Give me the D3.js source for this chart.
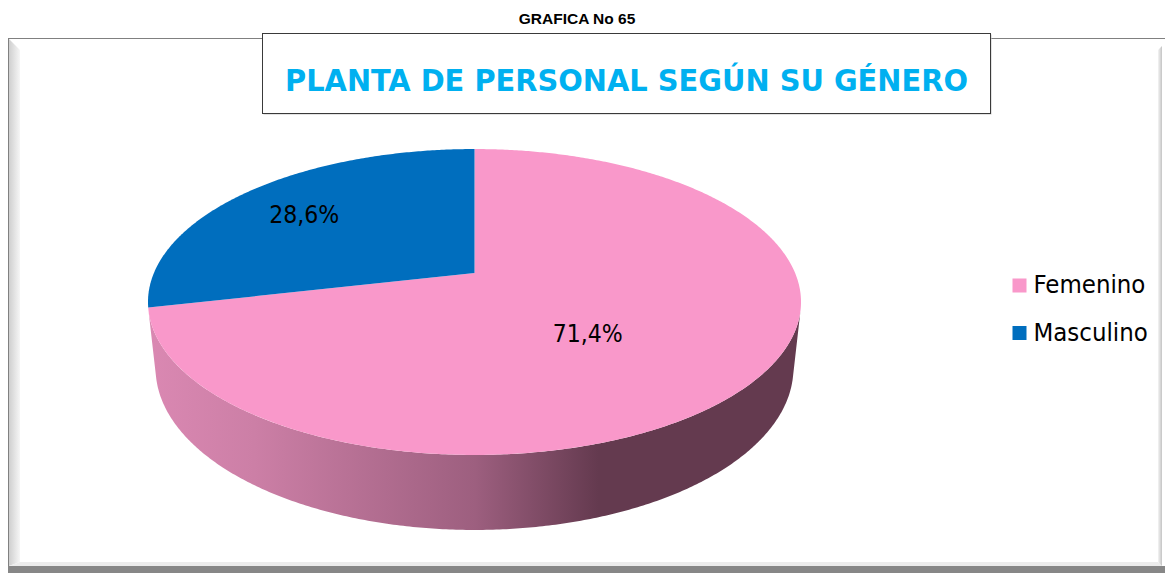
<!DOCTYPE html>
<html>
<head>
<meta charset="utf-8">
<script src="https://cdn.jsdelivr.net/npm/d3@7"></script>
<style>
  html, body { margin: 0; padding: 0; background: #ffffff; }
  svg { display: block; }
</style>
</head>
<body>
<svg id="chart" width="1165" height="573"></svg>
<script>
// ---- data ----
const categories = ["Femenino", "Masculino"];
const values = [71.4, 28.6];
const valueLabels = ["71,4%", "28,6%"];
const topColors = ["#F998CA", "#006EBE"];
const sideLight = ["#DA88B2", "#2C7FC2"];
const sideDark = ["#643A4F", "#0B3A62"];
const chartCaption = "GRAFICA No 65";
const chartTitle = "PLANTA DE PERSONAL SEGÚN SU GÉNERO";

// ---- layout ----
const W = 1165, H = 573;
const svg = d3.select("#chart");
const defs = svg.append("defs");
const condensed = "'DejaVu Sans Condensed', 'DejaVu Sans', sans-serif";

// chart area frame with bevelled edges
const frame = svg.append("g");
const leftBevel = defs.append("linearGradient").attr("id", "bevelLeft")
  .attr("x1", 0).attr("x2", 1).attr("y1", 0).attr("y2", 0);
leftBevel.append("stop").attr("offset", 0).attr("stop-color", "#cfcfcf");
leftBevel.append("stop").attr("offset", 1).attr("stop-color", "#f6f6f6");
const rightBevel = defs.append("linearGradient").attr("id", "bevelRight")
  .attr("x1", 0).attr("x2", 1).attr("y1", 0).attr("y2", 0);
rightBevel.append("stop").attr("offset", 0).attr("stop-color", "#f4f4f4");
rightBevel.append("stop").attr("offset", 1).attr("stop-color", "#c4c4c4");

frame.append("rect").attr("x", 8.5).attr("y", 38.5).attr("width", 1160).attr("height", 540)
  .attr("fill", "#ffffff").attr("stroke", "#808080").attr("stroke-width", 1);
frame.append("polygon").attr("points", "9,39 20,50 20,562 9,566").attr("fill", "url(#bevelLeft)");
frame.append("polygon").attr("points", "9,566 20,562 1158,562 1162,566").attr("fill", "#ececec");
frame.append("polygon").attr("points", "1158,50 1162,46 1162,566 1158,562").attr("fill", "url(#bevelRight)");
frame.append("rect").attr("x", 8).attr("y", 566).attr("width", W - 8).attr("height", H - 566).attr("fill", "#878787");

// caption above the chart
svg.append("text").attr("x", 577).attr("y", 24).attr("text-anchor", "middle")
  .attr("font-family", "'Liberation Sans', Arial, sans-serif").attr("font-weight", "bold")
  .attr("font-size", 15.5).attr("fill", "#000").text(chartCaption);

// title box
svg.append("rect").attr("x", 263.5).attr("y", 34.5).attr("width", 728).attr("height", 80)
  .attr("fill", "#c8c8c8");
svg.append("rect").attr("x", 262.5).attr("y", 33.5).attr("width", 728).attr("height", 80)
  .attr("fill", "#ffffff").attr("stroke", "#3a3a3a").attr("stroke-width", 1);
svg.append("text").attr("x", 626.5).attr("y", 91).attr("text-anchor", "middle")
  .attr("font-family", condensed).attr("font-weight", "bold").attr("font-size", 31)
  .attr("textLength", 683).attr("lengthAdjust", "spacingAndGlyphs")
  .attr("fill", "#00B0F0").text(chartTitle);

// ---- 3D pie with perspective ----
const cx = 474.5, cy = 273;           // screen position of the pie centre
const sinE = 0.46, cosE = Math.sqrt(1 - sinE * sinE); // viewing elevation
const R = 0.2135, thick = 0.05, focal = 1501.6;      // camera distance = 1

function project(X, Y, Z) {
  const d = 1 - (Y * sinE + Z * cosE);
  const u = Y * cosE - Z * sinE;
  return [cx + focal * X / d, cy - focal * u / d];
}
function rim(a, r, Y) {
  return project(r * Math.sin(a), Y, -r * Math.cos(a));
}
function arcPoints(a0, a1, r, Y) {
  const n = Math.max(2, Math.ceil(Math.abs(a1 - a0) / (Math.PI / 360)));
  return d3.range(n + 1).map(i => rim(a0 + (a1 - a0) * i / n, r, Y));
}

const arcs = d3.pie().sort(null).value(d => d)(values);
const line = d3.line();

// side walls: only the part facing the camera is drawn
const visLo = Math.acos(-R / cosE), visHi = 2 * Math.PI - visLo;
const pieG = svg.append("g");
arcs.forEach((s, i) => {
  const g = defs.append("linearGradient").attr("id", "side" + i)
    .attr("gradientUnits", "userSpaceOnUse")
    .attr("x1", 150).attr("x2", 800).attr("y1", 0).attr("y2", 0);
  g.append("stop").attr("offset", 0).attr("stop-color", sideLight[i]);
  g.append("stop").attr("offset", 0.16).attr("stop-color", d3.interpolateRgb(sideLight[i], sideDark[i])(0.12));
  g.append("stop").attr("offset", 0.5).attr("stop-color", d3.interpolateRgb(sideLight[i], sideDark[i])(0.52));
  g.append("stop").attr("offset", 0.69).attr("stop-color", sideDark[i]);
  g.append("stop").attr("offset", 1).attr("stop-color", sideDark[i]);

  const a0 = Math.max(s.startAngle, visLo), a1 = Math.min(s.endAngle, visHi);
  if (a1 <= a0) return;
  const pts = arcPoints(a0, a1, R, 0).concat(arcPoints(a1, a0, R, -thick));
  pieG.append("path").attr("d", line(pts) + "Z").attr("fill", "url(#side" + i + ")");
});

// top faces
arcs.forEach((s, i) => {
  const pts = [project(0, 0, 0)].concat(arcPoints(s.startAngle, s.endAngle, R, 0));
  pieG.append("path").attr("d", line(pts) + "Z").attr("fill", topColors[i]);
});

// value labels on the top faces
const labelSpots = [{ r: 0.5, turn: 10.5 }, { r: 0.72, turn: -1.5 }];
arcs.forEach((s, i) => {
  const mid = (s.startAngle + s.endAngle) / 2 + labelSpots[i].turn * Math.PI / 180;
  const p = rim(mid, labelSpots[i].r * R, 0);
  pieG.append("text").attr("x", p[0]).attr("y", p[1] + 9).attr("text-anchor", "middle")
    .attr("font-family", condensed).attr("font-size", 24.5).attr("fill", "#000")
    .text(valueLabels[i]);
});

// legend
const legend = svg.append("g").attr("transform", "translate(1012.5,278.5)");
categories.forEach((c, i) => {
  const row = legend.append("g").attr("transform", `translate(0,${i * 47.5})`);
  row.append("rect").attr("width", 14).attr("height", 14).attr("fill", topColors[i]);
  row.append("text").attr("x", 21).attr("y", 14.5).attr("font-family", condensed)
    .attr("font-size", 25.5).attr("fill", "#000").text(c);
});
</script>
</body>
</html>
